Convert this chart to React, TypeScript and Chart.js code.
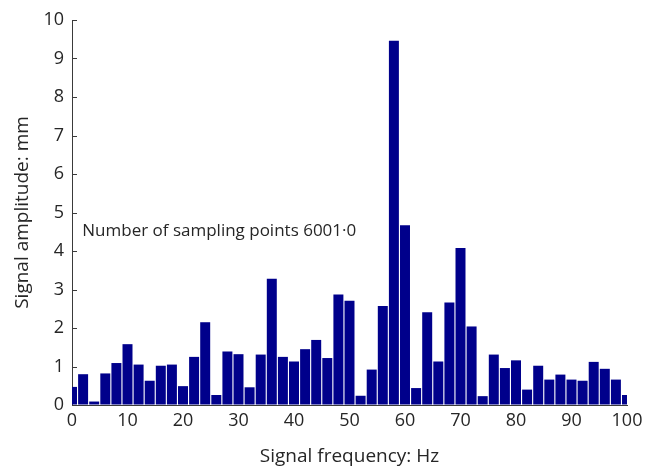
import React, { useEffect, useRef } from "react";
import { Chart, registerables } from "chart.js";

Chart.register(...registerables);

const frequencies = [
  0, 2, 4, 6, 8, 10, 12, 14, 16, 18, 20, 22, 24, 26, 28, 30, 32, 34, 36, 38, 40,
  42, 44, 46, 48, 50, 52, 54, 56, 58, 60, 62, 64, 66, 68, 70, 72, 74, 76, 78, 80,
  82, 84, 86, 88, 90, 92, 94, 96, 98, 100,
];

const amplitudes = [
  0.47, 0.8, 0.09, 0.82, 1.09, 1.58, 1.05, 0.63, 1.02, 1.05, 0.49, 1.25, 2.15,
  0.26, 1.39, 1.32, 0.46, 1.31, 3.28, 1.25, 1.13, 1.45, 1.69, 1.22, 2.87, 2.71,
  0.24, 0.92, 2.57, 9.46, 4.67, 0.44, 2.41, 1.13, 2.66, 4.08, 2.04, 0.23, 1.31,
  0.96, 1.16, 0.4, 1.02, 0.66, 0.79, 0.66, 0.63, 1.12, 0.94, 0.66, 0.26,
];

const yTickValues = [0, 1, 2, 3, 4, 5, 6, 7, 8, 9, 10];
const xTickValues = [0, 10, 20, 30, 40, 50, 60, 70, 80, 90, 100];

const xTitle = "Signal frequency: Hz";
const yTitle = "Signal amplitude: mm";
const noteText = "Number of sampling points 6001·0";
const notePosition = { x: 1.85, y: 4.4 };

const FONT = "'Open Sans', 'Noto Sans', sans-serif";
const TEXT = "#262626";
const AXIS = "#3a3a3a";

export default function App() {
  const ref = useRef<HTMLCanvasElement>(null);

  useEffect(() => {
    if (!ref.current) return;

    const inwardTicks = {
      id: "inwardTicks",
      afterDraw(chart: any) {
        const ctx = chart.ctx;
        const ys = chart.scales.y;
        const left = chart.chartArea.left;
        ctx.save();
        ctx.strokeStyle = AXIS;
        ctx.lineWidth = 1;
        ctx.beginPath();
        yTickValues.forEach((v) => {
          const py = Math.round(ys.getPixelForValue(v)) + 0.5;
          ctx.moveTo(left, py);
          ctx.lineTo(left + 5, py);
        });
        ctx.stroke();
        ctx.restore();
      },
    };

    const note = {
      id: "note",
      afterDraw(chart: any) {
        const ctx = chart.ctx;
        const px = chart.scales.x.getPixelForValue(notePosition.x);
        const py = chart.scales.y.getPixelForValue(notePosition.y);
        ctx.save();
        ctx.fillStyle = TEXT;
        ctx.font = `17px ${FONT}`;
        ctx.textAlign = "left";
        ctx.textBaseline = "alphabetic";
        ctx.fillText(noteText, px, py);
        ctx.restore();
      },
    };

    const chart = new Chart(ref.current, {
      type: "bar",
      data: {
        datasets: [
          {
            data: frequencies.map((f, i) => ({ x: f, y: amplitudes[i] })),
            backgroundColor: "#00008B",
            borderWidth: 0,
            barPercentage: 0.9,
            categoryPercentage: 1,
            clip: 0,
          } as any,
        ],
      },
      options: {
        animation: false,
        responsive: true,
        maintainAspectRatio: false,
        layout: { padding: { left: 0, right: 28, top: 20, bottom: 0 } },
        plugins: {
          legend: { display: false },
          tooltip: { enabled: false },
        },
        scales: {
          x: {
            type: "linear",
            min: 0,
            max: 100,
            offset: false,
            afterBuildTicks(scale: any) {
              scale.ticks = xTickValues.map((v) => ({ value: v }));
            },
            afterFit(scale: any) {
              scale.height = 63;
            },
            ticks: {
              color: TEXT,
              font: { family: FONT, size: 18 },
              padding: 5,
              maxRotation: 0,
              autoSkip: false,
            },
            grid: { drawOnChartArea: false, drawTicks: false },
            border: { display: true, color: AXIS, width: 1 },
            title: {
              display: true,
              text: xTitle,
              color: TEXT,
              font: { family: FONT, size: 19 },
              padding: { top: 0, bottom: 0 },
            },
          },
          y: {
            min: 0,
            max: 10,
            afterBuildTicks(scale: any) {
              scale.ticks = yTickValues.map((v) => ({ value: v }));
            },
            afterFit(scale: any) {
              scale.width = 72;
            },
            ticks: {
              color: TEXT,
              font: { family: FONT, size: 18 },
              padding: 8,
              autoSkip: false,
            },
            grid: { drawOnChartArea: false, drawTicks: false },
            border: { display: true, color: AXIS, width: 1 },
            title: {
              display: true,
              text: yTitle,
              color: TEXT,
              font: { family: FONT, size: 19 },
              padding: { top: 11, bottom: 0 },
            },
          },
        },
      } as any,
      plugins: [inwardTicks, note],
    });

    return () => chart.destroy();
  }, []);

  return (
    <div
      style={{
        position: "absolute",
        left: 0,
        top: 0,
        width: 655,
        height: 468,
        background: "#ffffff",
      }}
    >
      <canvas ref={ref} />
    </div>
  );
}
